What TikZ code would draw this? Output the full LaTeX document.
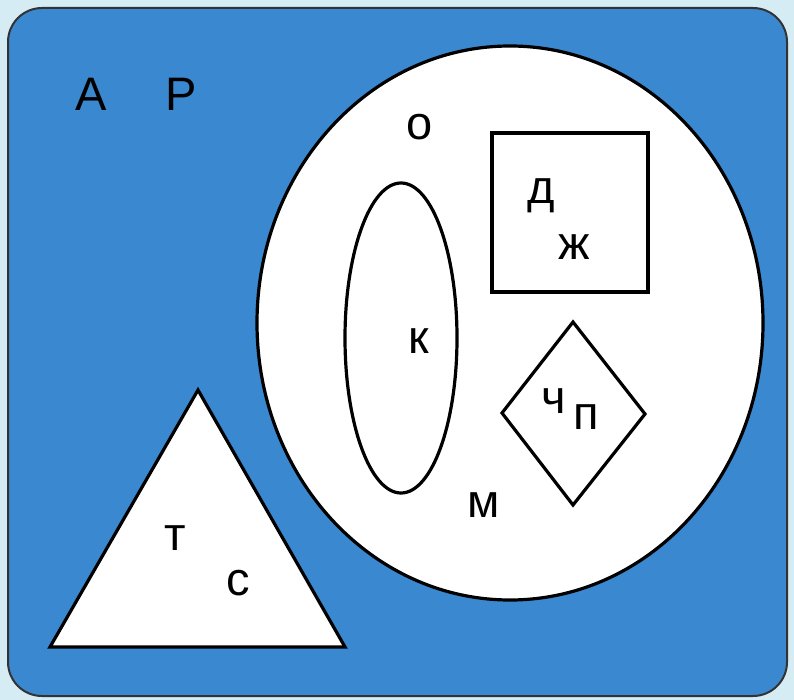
\documentclass[tikz,border=0pt]{standalone}
\usepackage{fontspec}
\setmainfont{Liberation Sans}
\definecolor{panelblue}{HTML}{3A88CF}
\definecolor{margincol}{HTML}{D6ECF4}
\tikzset{
  lbl/.style={anchor=base, inner sep=0pt, font=\fontsize{47}{50}\selectfont},
  shapeline/.style={draw=black, line width=3.2pt, fill=white},
}
\begin{document}
\begin{tikzpicture}[x=1pt,y=-1pt]
\useasboundingbox (0,0) rectangle (794,700);
\fill[margincol] (0,0) rectangle (794,700);
\draw[fill=panelblue, draw=black!80, line width=2pt, rounded corners=34pt] (8,8) rectangle (787,696);
% big circle
\draw[shapeline] (510,323) ellipse [x radius=253, y radius=277];
% inner ellipse
\draw[shapeline] (401,338) ellipse [x radius=56, y radius=155];
% square
\draw[shapeline] (492,133) rectangle (648,292);
% diamond
\draw[shapeline] (573,322) -- (645,414) -- (573,505) -- (502,413) -- cycle;
% triangle
\draw[shapeline, line join=miter] (198,390) -- (345,647) -- (50,647) -- cycle;
% letters
\node[lbl] (A) at (91,111) {А};
\node[lbl] (R) at (181,111) {Р};
\node[lbl] (o) at (420,140) {о};
\node[lbl] (d) at (541,204) {д};
\node[lbl] (zh) at (574,260) {ж};
\node[lbl] (k) at (419,353) {к};
\node[lbl] (ch) at (554,413) {ч};
\node[lbl] (p) at (586,429) {п};
\node[lbl] (m) at (484,517) {м};
\node[lbl] (t) at (175,550) {т};
\node[lbl] (s) at (238,595) {с};
\end{tikzpicture}
\end{document}
